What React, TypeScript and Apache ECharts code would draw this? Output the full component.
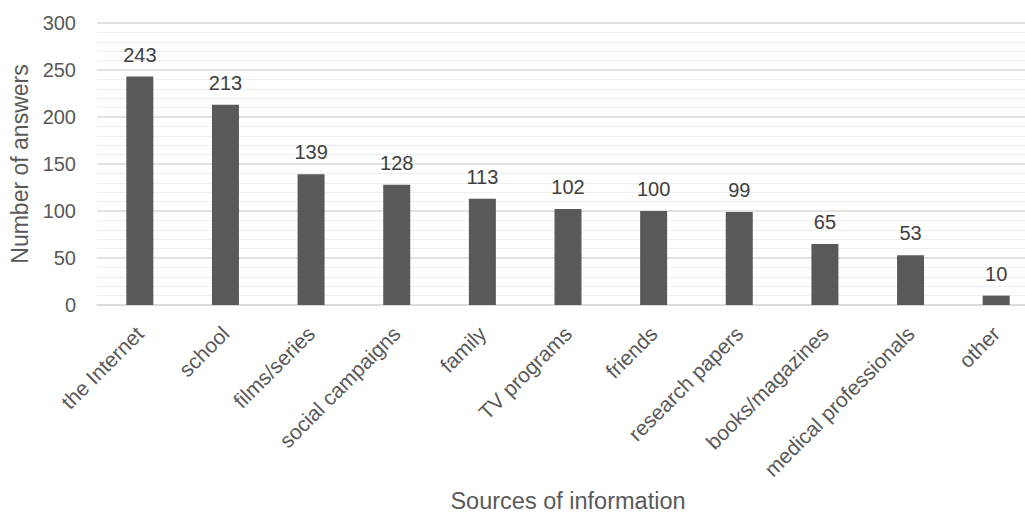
import React, { useEffect, useRef } from "react";
import * as echarts from "echarts";

const categories: string[] = [
  "the Internet",
  "school",
  "films/series",
  "social campaigns",
  "family",
  "TV programs",
  "friends",
  "research papers",
  "books/magazines",
  "medical professionals",
  "other",
];

const answers: number[] = [243, 213, 139, 128, 113, 102, 100, 99, 65, 53, 10];

const yTicks = { min: 0, max: 300, interval: 50 };

const FONT = '"Liberation Sans", Arial, sans-serif';

export default function App() {
  const ref = useRef<HTMLDivElement>(null);

  useEffect(() => {
    document.body.style.margin = "0";
    document.body.style.overflow = "hidden";
    if (!ref.current) return;
    const chart = echarts.init(ref.current, undefined, { renderer: "svg" });
    chart.setOption({
      animation: false,
      backgroundColor: "#ffffff",
      textStyle: { fontFamily: FONT },
      // the plot runs past the right edge, so the last category is cut off
      grid: {
        left: 97,
        top: 23,
        width: 942,
        height: 282,
        containLabel: false,
        outerBoundsMode: "none",
      },
      xAxis: {
        type: "category",
        data: categories,
        name: "Sources of information",
        nameLocation: "middle",
        nameGap: 184,
        nameTextStyle: { fontSize: 23.5, color: "#595959", fontFamily: FONT },
        axisTick: { show: false },
        axisLine: { lineStyle: { color: "#d9d9d9", width: 1.5 } },
        axisLabel: {
          rotate: 45,
          interval: 0,
          margin: 25,
          fontSize: 21,
          color: "#595959",
          fontFamily: FONT,
        },
      },
      yAxis: {
        type: "value",
        min: yTicks.min,
        max: yTicks.max,
        interval: yTicks.interval,
        name: "Number of answers",
        nameLocation: "middle",
        nameGap: 62,
        nameTextStyle: { fontSize: 23, color: "#595959", fontFamily: FONT },
        axisLine: { show: false },
        axisTick: { show: false },
        axisLabel: { margin: 21, fontSize: 20, color: "#595959", fontFamily: FONT },
        splitLine: { lineStyle: { color: "#d9d9d9", width: 1.5 } },
        minorTick: { show: false, splitNumber: 5 },
        minorSplitLine: { show: true, lineStyle: { color: "#eeeeee", width: 1 } },
      },
      series: [
        {
          type: "bar",
          data: answers,
          barWidth: 27,
          itemStyle: { color: "#595959" },
          label: {
            show: true,
            position: "top",
            distance: 12,
            fontSize: 20,
            color: "#404040",
            fontFamily: FONT,
          },
        },
      ],
    });
    return () => chart.dispose();
  }, []);

  return (
    <div
      style={{
        position: "fixed",
        left: 0,
        top: 0,
        width: 1025,
        height: 515,
        overflow: "hidden",
        background: "#ffffff",
      }}
    >
      <div ref={ref} style={{ width: 1025, height: 515 }} />
    </div>
  );
}
